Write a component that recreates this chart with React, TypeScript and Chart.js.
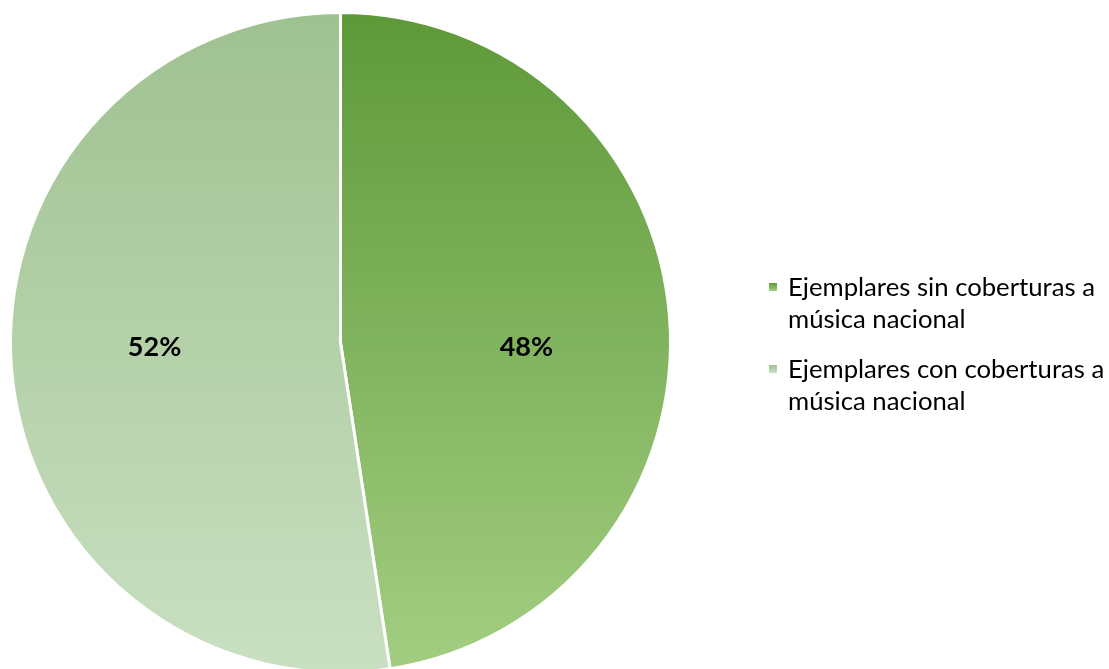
import React, { useEffect, useRef } from "react";
import { Chart, registerables } from "chart.js";

Chart.register(...registerables);

const categories = [
  "Ejemplares sin coberturas a música nacional",
  "Ejemplares con coberturas a música nacional",
];
const legendLines = [
  ["Ejemplares sin coberturas a", "música nacional"],
  ["Ejemplares con coberturas a", "música nacional"],
];
const values = [47.6, 52.4];
const percentLabels = ["48%", "52%"];
const gradientTop = ["#5e9939", "#9fc190"];
const gradientBottom = ["#a3ce82", "#c9e0c2"];

const FONT = "Lato, 'Source Sans Pro', 'Noto Sans', sans-serif";

const labelPlugin = {
  id: "sliceLabels",
  afterDatasetsDraw(chart: any) {
    const meta = chart.getDatasetMeta(0);
    const ctx = chart.ctx;
    ctx.save();
    ctx.font = `bold 27px ${FONT}`;
    ctx.fillStyle = "#000000";
    ctx.textAlign = "center";
    ctx.textBaseline = "middle";
    meta.data.forEach((arc: any, i: number) => {
      const p = arc.getProps(["x", "y", "startAngle", "endAngle", "outerRadius"], true);
      const mid = (p.startAngle + p.endAngle) / 2;
      const r = p.outerRadius * 0.565;
      const x = p.x + Math.cos(mid) * r;
      const y = p.y + 5;
      ctx.fillText(percentLabels[i], x, y);
    });
    ctx.restore();
  },
};

export default function App() {
  const ref = useRef<HTMLCanvasElement | null>(null);
  useEffect(() => {
    if (!ref.current) return;
    const bg = (c: any) => {
      const i = c.dataIndex ?? 0;
      const area = c.chart.chartArea;
      if (!area) return gradientTop[i];
      const g = c.chart.ctx.createLinearGradient(0, area.top, 0, area.bottom);
      g.addColorStop(0, gradientTop[i]);
      g.addColorStop(1, gradientBottom[i]);
      return g;
    };
    const chart = new Chart(ref.current, {
      type: "pie",
      data: {
        labels: categories,
        datasets: [
          {
            data: values,
            backgroundColor: bg as any,
            borderColor: "#ffffff",
            borderWidth: 3,
            hoverOffset: 0,
          },
        ],
      },
      options: {
        animation: false,
        responsive: true,
        maintainAspectRatio: false,
        layout: { padding: { top: 11, left: 9, right: 437, bottom: 16 } },
        plugins: {
          legend: { display: false },
          tooltip: { enabled: false },
        },
      },
      plugins: [labelPlugin],
    });
    return () => chart.destroy();
  }, []);

  return (
    <div
      style={{
        position: "absolute",
        left: 0,
        top: 0,
        width: 1109,
        height: 669,
        overflow: "hidden",
        background: "#ffffff",
      }}
    >
      <div style={{ position: "absolute", left: 0, top: 0, width: 1109, height: 690 }}>
        <canvas ref={ref} />
      </div>
      <div
        style={{
          position: "absolute",
          left: 769,
          top: 270,
          fontFamily: FONT,
          fontSize: 25.7,
          color: "#000000",
        }}
      >
        {legendLines.map((lines, i) => (
          <div key={i} style={{ position: "relative", marginBottom: i === 0 ? 18 : 0 }}>
            <div
              style={{
                position: "absolute",
                left: 0,
                top: 13,
                width: 8,
                height: 8,
                background: `linear-gradient(${gradientTop[i]}, ${gradientBottom[i]})`,
              }}
            />
            <div style={{ paddingLeft: 19, lineHeight: "32px", whiteSpace: "nowrap" }}>
              {lines.map((l, j) => (
                <div key={j}>{l}</div>
              ))}
            </div>
          </div>
        ))}
      </div>
    </div>
  );
}
